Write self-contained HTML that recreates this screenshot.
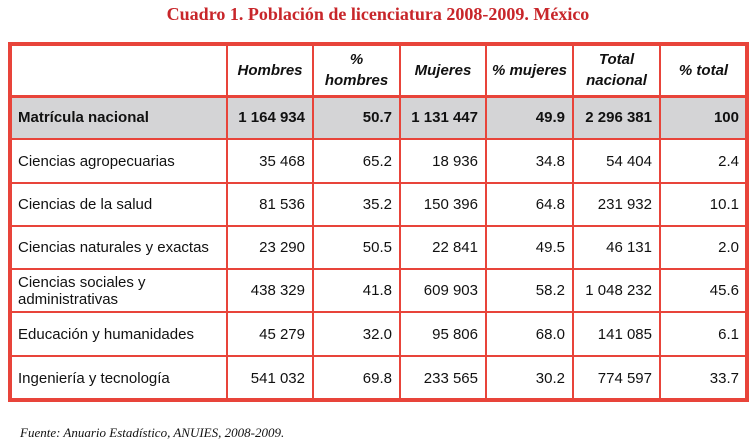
<!DOCTYPE html>
<html><head><meta charset="utf-8"><style>
body{margin:0;width:756px;height:446px;background:#fff;position:relative;overflow:hidden;font-family:"Liberation Sans",Arial,sans-serif;color:#111}
.t{position:absolute;left:0;width:756px;top:4px;text-align:center;font-family:"Liberation Serif",serif;font-weight:bold;font-size:18px;color:#c8262a}
.l{position:absolute;background:#e8443a}
.c{position:absolute;display:flex;align-items:center;font-size:15px;box-sizing:border-box;padding:0 8px;line-height:17px}
.r{justify-content:flex-end}.h{justify-content:center;text-align:center;font-style:italic;font-weight:bold;line-height:21px;white-space:nowrap;padding:0 2px}
.b{font-weight:bold}
.src{position:absolute;left:20px;top:425px;font-family:"Liberation Serif",serif;font-style:italic;font-size:13px}
</style></head><body>
<div class="t">Cuadro 1. Población de licenciatura 2008-2009. México</div>
<div id="tbl"></div>
<div class="src">Fuente: Anuario Estadístico, ANUIES, 2008-2009.</div>
<script>
const cols=[10,227,313,400,486,573,660,747];
const rows=[44,96,139,183,226,269,312,356,400];
const headers=["","Hombres","%<br>hombres","Mujeres","% mujeres","Total<br>nacional","% total"];
const data=[
["Matrícula nacional","1 164 934","50.7","1 131 447","49.9","2 296 381","100"],
["Ciencias agropecuarias","35 468","65.2","18 936","34.8","54 404","2.4"],
["Ciencias de la salud","81 536","35.2","150 396","64.8","231 932","10.1"],
["Ciencias naturales y exactas","23 290","50.5","22 841","49.5","46 131","2.0"],
["Ciencias sociales y<br>administrativas","438 329","41.8","609 903","58.2","1 048 232","45.6"],
["Educación y humanidades","45 279","32.0","95 806","68.0","141 085","6.1"],
["Ingeniería y tecnología","541 032","69.8","233 565","30.2","774 597","33.7"]];
const tb=document.getElementById('tbl');
function add(cls,x,y,w,h,html){const d=document.createElement('div');d.className=cls;d.style.left=x+'px';d.style.top=y+'px';d.style.width=w+'px';d.style.height=h+'px';if(html!==undefined)d.innerHTML=html;tb.appendChild(d);return d;}
const g=add('',cols[0],rows[1],cols[7]-cols[0],rows[2]-rows[1]);g.style.position='absolute';g.style.background='#d4d4d6';
headers.forEach((h,i)=>{const d=add('c h',cols[i],rows[0],cols[i+1]-cols[i],rows[1]-rows[0],h);

});
data.forEach((row,r)=>{row.forEach((v,i)=>{const d=add('c'+(i?' r':'')+(r===0?' b':''),cols[i],rows[r+1],cols[i+1]-cols[i],rows[r+2]-rows[r+1],v);

});});
cols.forEach((x,i)=>{const e=(i==0||i==cols.length-1);const w=e?4:2;add('l',x-w/2,rows[0]-2,w,rows[8]-rows[0]+4);});
rows.forEach((y,i)=>{const e=(i==0||i==rows.length-1);const h=e?4:(i==1?3:2);add('l',cols[0]-2,y-h/2,cols[7]-cols[0]+4,h);});
</script>
</body></html>
